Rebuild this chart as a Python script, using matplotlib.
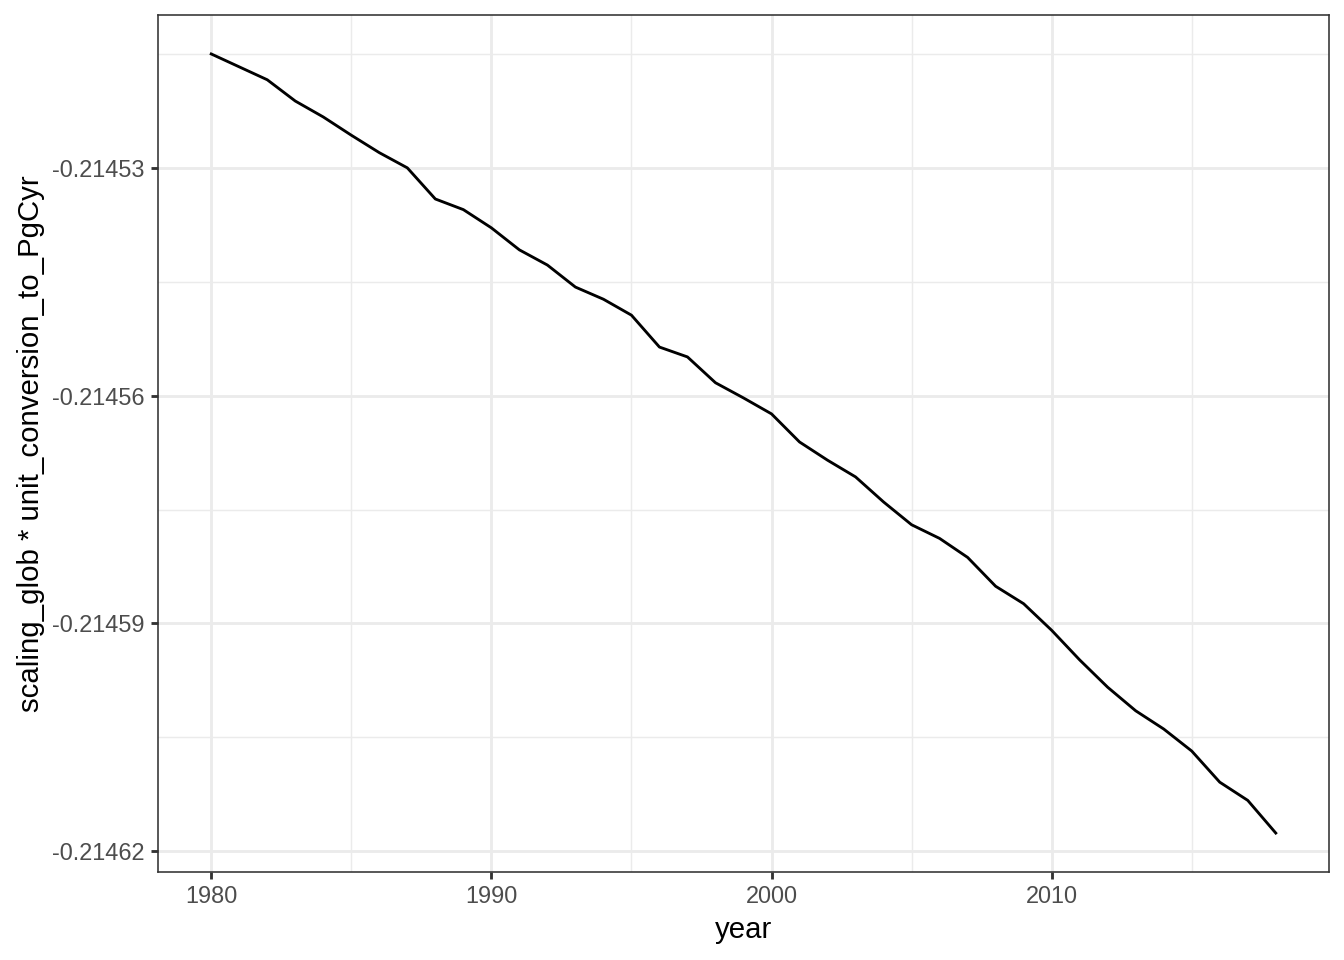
import matplotlib
matplotlib.use("Agg")
import matplotlib.pyplot as plt
from matplotlib.ticker import FixedLocator, FormatStrFormatter

years = list(range(1980, 2019))
values = [
    -0.2145150, -0.2145167, -0.2145184, -0.2145212, -0.2145233, -0.2145257,
    -0.2145280, -0.2145300, -0.2145341, -0.2145355, -0.2145379, -0.2145408,
    -0.2145428, -0.2145457, -0.2145473, -0.2145494, -0.2145536, -0.2145549,
    -0.2145583, -0.2145603, -0.2145624, -0.2145661, -0.2145685, -0.2145707,
    -0.2145740, -0.2145770, -0.2145788, -0.2145813, -0.2145851, -0.2145874,
    -0.2145909, -0.2145948, -0.2145984, -0.2146015, -0.2146039, -0.2146068,
    -0.2146109, -0.2146133, -0.2146176,
]
x_major = [1980, 1990, 2000, 2010]
x_minor = [1985, 1995, 2005, 2015]
y_major = [-0.21462, -0.21459, -0.21456, -0.21453]
y_minor = [-0.214605, -0.214575, -0.214545, -0.214515]

plt.rcParams['font.family'] = ['Liberation Sans', 'DejaVu Sans']
lw = 0.5 * 72.27 / 25.4 * 0.75

fig = plt.figure(figsize=(7, 5), dpi=192)
ax = fig.add_axes([158/1344, 1 - 872/960, (1329-158)/1344, (872-15)/960])

ax.plot(years, values, color='black', linewidth=lw, solid_joinstyle='round', zorder=3)

span = max(values) - min(values)
ax.set_xlim(1980 - 0.05*38, 2018 + 0.05*38)
ax.set_ylim(min(values) - 0.05*span, max(values) + 0.05*span)

ax.xaxis.set_major_locator(FixedLocator(x_major))
ax.xaxis.set_minor_locator(FixedLocator(x_minor))
ax.yaxis.set_major_locator(FixedLocator(y_major))
ax.yaxis.set_minor_locator(FixedLocator(y_minor))
ax.yaxis.set_major_formatter(FormatStrFormatter('%.5f'))

ax.grid(which='major', color='#EBEBEB', linewidth=lw, zorder=0)
ax.grid(which='minor', color='#EBEBEB', linewidth=lw/2, zorder=0)
ax.set_axisbelow(True)

for s in ax.spines.values():
    s.set_color('#333333')
    s.set_linewidth(0.6)

ax.tick_params(which='major', length=2.75, width=lw, color='#333333',
               labelsize=8.8, labelcolor='#4D4D4D', pad=2.2)
ax.tick_params(which='minor', length=0)

ax.set_xlabel('year', fontsize=11, color='black', labelpad=2.75)
ax.set_ylabel('scaling_glob * unit_conversion_to_PgCyr', fontsize=11, color='black', labelpad=2.75)

fig.savefig('out.png', dpi=192, facecolor='white')
